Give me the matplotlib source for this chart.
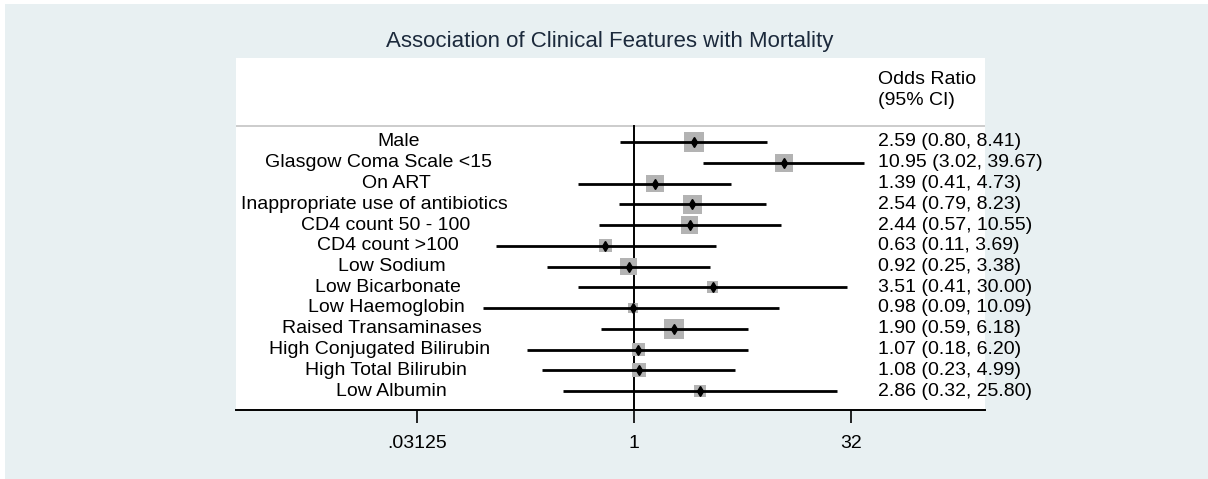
import numpy as np
import matplotlib.pyplot as plt
from matplotlib.patches import Rectangle

plt.rcParams['font.family'] = ['Liberation Sans', 'DejaVu Sans']

labels = ['Male', 'Glasgow Coma Scale <15', 'On ART',
          'Inappropriate use of antibiotics', 'CD4 count 50 - 100',
          'CD4 count >100', 'Low Sodium', 'Low Bicarbonate',
          'Low Haemoglobin', 'Raised Transaminases',
          'High Conjugated Bilirubin', 'High Total Bilirubin', 'Low Albumin']
odds = [2.59, 10.95, 1.39, 2.54, 2.44, 0.63, 0.92, 3.51, 0.98, 1.90, 1.07, 1.08, 2.86]
ci_low = [0.80, 3.02, 0.41, 0.79, 0.57, 0.11, 0.25, 0.41, 0.09, 0.59, 0.18, 0.23, 0.32]
ci_high = [8.41, 39.67, 4.73, 8.23, 10.55, 3.69, 3.38, 30.00, 10.09, 6.18, 6.20, 4.99, 25.80]
# relative study weights (box area)
weights = [4.0, 3.2, 3.2, 3.5, 2.9, 1.7, 2.9, 1.4, 1.0, 4.0, 1.7, 2.0, 1.4]
ticks = [0.03125, 1, 32]
tick_labels = ['.03125', '1', '32']

W, H = 1208, 479
fig = plt.figure(figsize=(W / 100, H / 100), dpi=100)
fig.patch.set_facecolor('white')
bg = Rectangle((5 / W, 0), 1, 1 - 4 / H, transform=fig.transFigure,
               facecolor='#e8f0f2', edgecolor='none', zorder=-10)
fig.patches.append(bg)

# plot region in pixels
x0, x1, y_top, y_axis = 236, 985, 58, 410
ax = fig.add_axes([x0 / W, (H - y_axis) / H, (x1 - x0) / W, (y_axis - y_top) / H])
ax.set_facecolor('white')

px_per_log2 = 43.35
x_one = 634
ax.set_xscale('log', base=2)
ax.set_xlim(2 ** ((x0 - x_one) / px_per_log2), 2 ** ((x1 - x_one) / px_per_log2))

row_h = 20.75
first_row = 142
top = -(first_row - y_top) / row_h
bottom = (y_axis - y_top) / row_h + top
ax.set_ylim(bottom, top)

n = len(labels)
y = np.arange(n)

# separator under header, reference line at 1
sep = (126 - y_top) / row_h + top
ax.axhline(sep, color='#c4c4c4', lw=1.2, zorder=1)
ax.plot([1, 1], [sep, bottom], color='black', lw=1.4, zorder=2)

# boxes
side_px = 10 * np.sqrt(weights)
ax.scatter(odds, y, marker='s', s=(side_px * 0.72) ** 2, color='#b3b3b3',
           edgecolors='none', zorder=3)
# CI lines
ax.hlines(y, ci_low, ci_high, color='black', lw=2.0, zorder=4)
ax.plot(odds, y, linestyle='none', marker='d', ms=5.5, color='black', zorder=5)

tfs = 14
val_x = (878 - x0) / (x1 - x0)
label_texts = []
for i in range(n):
    t = ax.text(0, i, labels[i], transform=ax.get_yaxis_transform(),
                ha='left', va='center', fontsize=tfs, color='black')
    label_texts.append(t)
    txt = '{:.2f} ({:.2f}, {:.2f})'.format(odds[i], ci_low[i], ci_high[i])
    ax.text(val_x, i, txt, transform=ax.get_yaxis_transform(),
            ha='left', va='center', fontsize=tfs, color='black')

# labels are anchored a bit right of centre, like the original
renderer = fig.canvas.get_renderer()
for t in label_texts:
    w = t.get_window_extent(renderer).width
    left_px = 403.5 - 0.608 * w
    t.set_x((left_px - x0) / (x1 - x0))

hdr_y = (79 - y_top) / row_h + top
ax.text(val_x, hdr_y, 'Odds Ratio', transform=ax.get_yaxis_transform(),
        ha='left', va='center', fontsize=tfs)
ax.text(val_x, hdr_y + 1.05, '(95% CI)', transform=ax.get_yaxis_transform(),
        ha='left', va='center', fontsize=tfs)

for s in ['top', 'right', 'left']:
    ax.spines[s].set_visible(False)
ax.spines['bottom'].set_linewidth(1.4)
ax.set_yticks([])
ax.set_xticks(ticks)
ax.set_xticklabels(tick_labels)
ax.minorticks_off()
ax.tick_params(axis='x', length=9, width=1.2, labelsize=tfs, pad=9, color='black')

fig.text(610 / W, 1 - 41 / H, 'Association of Clinical Features with Mortality',
         ha='center', va='center', fontsize=16, color='#1c2a3c')

fig.savefig('out.png', dpi=100, facecolor=fig.get_facecolor())
